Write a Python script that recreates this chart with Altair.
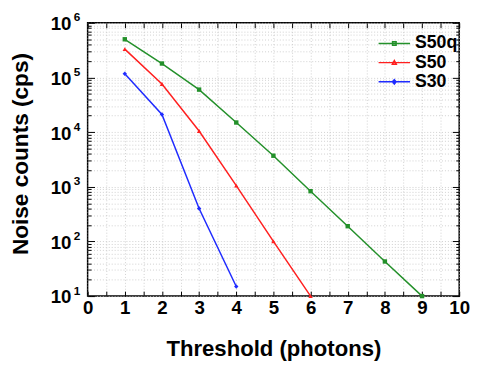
import altair as alt
import pandas as pd

# ---- data ----
series = ["S50q", "S50", "S30"]
colors = ["#23902a", "#ff1f1f", "#1f2bff"]
marker_shapes = ["square", "triangle-up", "diamond"]

x_s50q = [1, 2, 3, 4, 5, 6, 7, 8, 9]
y_s50q = [5.0e5, 1.8e5, 6.0e4, 1.5e4, 3.7e3, 830, 190, 43, 10]
x_s50 = [1, 2, 3, 4, 5, 6]
y_s50 = [3.3e5, 7.6e4, 1.05e4, 1.05e3, 100, 10]
x_s30 = [1, 2, 3, 4]
y_s30 = [1.17e5, 2.1e4, 400, 15]

x_int_ticks = [0, 1, 2, 3, 4, 5, 6, 7, 8, 9, 10]
x_half_ticks = [0, 0.5, 1, 1.5, 2, 2.5, 3, 3.5, 4, 4.5, 5, 5.5, 6, 6.5, 7, 7.5, 8, 8.5, 9, 9.5, 10]
y_decades = [10, 100, 1000, 10000, 100000, 1000000]
y_minor = [m * d for d in [10, 100, 1000, 10000, 100000] for m in [2, 3, 4, 5, 6, 7, 8, 9]]

# legend symbols: line with a marker in its middle (custom SVG paths, drawn left of the anchor)
legend_paths = [
    "M-8,0L0,0M-4.45,-0.45L-3.55,-0.45L-3.55,0.45L-4.45,0.45Z",
    "M-8,0L0,0M-4,-0.55L-3.5,0.4L-4.5,0.4Z",
    "M-8,0L0,0M-4,-0.55L-3.55,0L-4,0.55L-4.45,0Z",
]

df = pd.DataFrame({
    "threshold": x_s50q + x_s50 + x_s30,
    "counts": y_s50q + y_s50 + y_s30,
    "series": ["S50q"] * len(x_s50q) + ["S50"] * len(x_s50) + ["S30"] * len(x_s30),
})

FONT = "Liberation Sans"
xscale = alt.Scale(domain=[0, 10], nice=False, zero=False)
yscale = alt.Scale(type="log", domain=[10, 1000000], nice=False)
color_scale = alt.Scale(domain=series, range=colors)


def tick_axis(orient, values, size):
    # inward ticks: axis moved into the plot by `size`, ticks pointing back to the frame
    return alt.Axis(orient=orient, values=values, labels=False, domain=False, ticks=True,
                    tickSize=size, offset=-size, tickColor="black", tickWidth=1,
                    grid=False, title=None)


def grid_axis(orient, values):
    return alt.Axis(orient=orient, values=values, labels=False, domain=False, ticks=False,
                    grid=True, gridColor="#c4c4c4", gridDash=[1, 2], gridWidth=0.8,
                    title=None)


base = alt.Chart(df)

# grid layer
grid_x = base.mark_point(opacity=0).encode(
    x=alt.X("threshold:Q", scale=xscale, axis=grid_axis("bottom", x_half_ticks)),
    y=alt.Y("counts:Q", scale=yscale, axis=grid_axis("left", y_minor + y_decades)),
)

# minor y ticks left/right
minor_left = base.mark_point(opacity=0).encode(
    x=alt.X("threshold:Q", scale=xscale, axis=None),
    y=alt.Y("counts:Q", scale=yscale, axis=tick_axis("left", y_minor, 3.5)),
)
minor_right = base.mark_point(opacity=0).encode(
    x=alt.X("threshold:Q", scale=xscale, axis=None),
    y=alt.Y("counts:Q", scale=yscale, axis=tick_axis("right", y_minor, 3.5)),
)

# exponent (superscript) labels
sup_labels = base.mark_point(opacity=0).encode(
    x=alt.X("threshold:Q", scale=xscale, axis=None),
    y=alt.Y("counts:Q", scale=yscale, axis=alt.Axis(
        orient="left", values=y_decades, labelExpr="round(log(datum.value)/LN10) + ''",
        ticks=False, domain=False, grid=False, labelFont=FONT, labelFontSize=12,
        labelFontWeight="bold", labelColor="black", labelPadding=8, labelOffset=-6,
        labelFlush=False, labelOverlap=False, title=None)),
)

legend_kw = dict(orient="none", legendX=319, legendY=12, title=None, padding=0,
                 labelFont=FONT, labelFontSize=18, labelFontWeight="bold",
                 labelColor="black", labelOffset={"expr": "-4"}, symbolSize=64,
                 symbolStrokeWidth=1.5, symbolOpacity=1, rowPadding=1.5)

# legend carrier + top/right major inward ticks
legend_layer = base.mark_point(opacity=0, strokeWidth=1.5).encode(
    x=alt.X("threshold:Q", scale=xscale, axis=tick_axis("top", x_half_ticks, 5)),
    y=alt.Y("counts:Q", scale=yscale, axis=tick_axis("right", y_decades, 7)),
    color=alt.Color("series:N", scale=color_scale, legend=alt.Legend(**legend_kw)),
    shape=alt.Shape("series:N", scale=alt.Scale(domain=series, range=legend_paths),
                    legend=alt.Legend(**legend_kw)),
)

# lines + label axes
lines = base.mark_line(strokeWidth=1.5).encode(
    x=alt.X("threshold:Q", scale=xscale, axis=alt.Axis(
        orient="bottom", values=x_int_ticks, ticks=False, domain=False, grid=False,
        labelFont=FONT, labelFontSize=19, labelFontWeight="bold", labelColor="black",
        labelPadding=3, labelFlush=False, labelOverlap=False,
        title="Threshold (photons)", titleFont=FONT, titleFontSize=22.5,
        titleFontWeight="bold", titleColor="black", titleY=60,
        titleBaseline="alphabetic")),
    y=alt.Y("counts:Q", scale=yscale, axis=alt.Axis(
        orient="left", values=y_decades, labelExpr="'10'", ticks=False, domain=False,
        grid=False, labelFont=FONT, labelFontSize=19, labelFontWeight="bold",
        labelColor="black", labelPadding=17, labelOffset=1, labelFlush=False,
        labelOverlap=False,
        title="Noise counts (cps)", titleFont=FONT, titleFontSize=23,
        titleFontWeight="bold", titleColor="black", titleX=-61, titleY=133,
        titleBaseline="alphabetic")),
    color=alt.Color("series:N", scale=color_scale, legend=None),
)

# markers + bottom/left major inward ticks
points = base.mark_point(filled=True, size=20, opacity=1).encode(
    x=alt.X("threshold:Q", scale=xscale, axis=tick_axis("bottom", x_half_ticks, 5)),
    y=alt.Y("counts:Q", scale=yscale, axis=tick_axis("left", y_decades, 7)),
    color=alt.Color("series:N", scale=color_scale, legend=None),
    shape=alt.Shape("series:N", scale=alt.Scale(domain=series, range=marker_shapes), legend=None),
)

chart = alt.layer(
    grid_x, minor_left, minor_right, sup_labels, legend_layer, lines, points
).resolve_scale(
    color="independent", shape="independent"
).resolve_axis(
    x="independent", y="independent"
).properties(
    width=378, height=278,
    autosize=alt.AutoSizeParams(type="none"),
    padding={"left": 81, "top": 12, "right": 12, "bottom": 66},
).configure_view(
    stroke="black", strokeWidth=1.5
)

chart.save("out.html", embed_options={"renderer": "svg", "actions": False})
